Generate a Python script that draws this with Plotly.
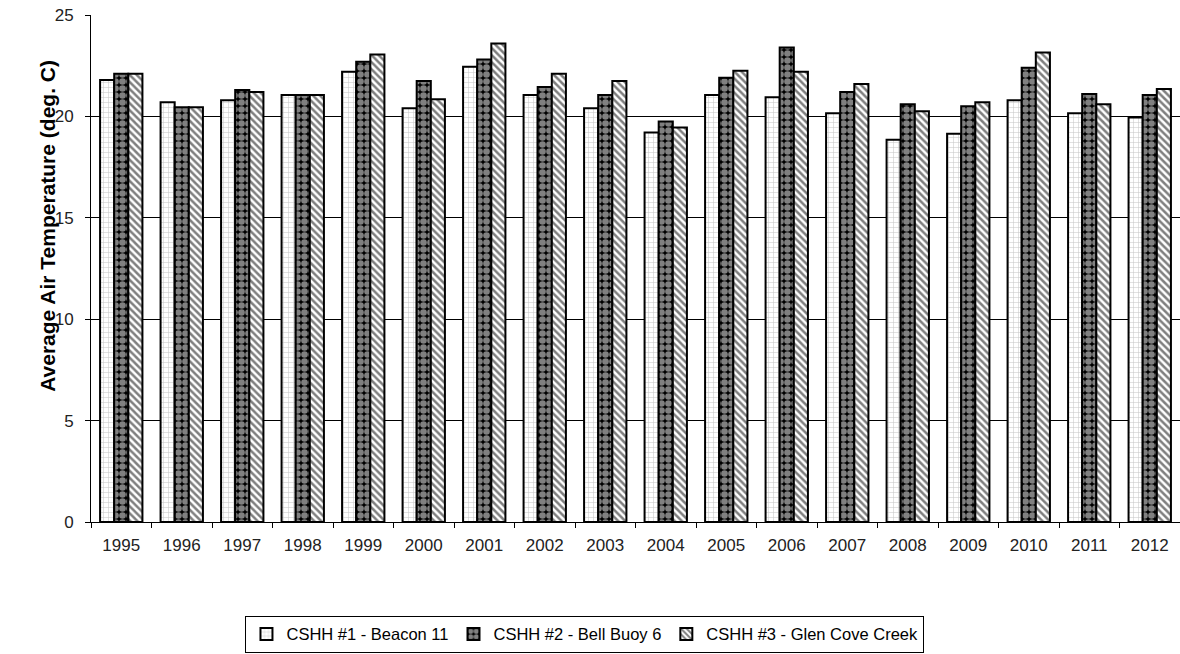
import plotly.graph_objects as go

# ==============================
# DATA
# ==============================

years = ["1995", "1996", "1997", "1998", "1999", "2000", "2001", "2002", "2003",
         "2004", "2005", "2006", "2007", "2008", "2009", "2010", "2011", "2012"]

beacon_11 = [21.8, 20.7, 20.8, 21.05, 22.2, 20.4, 22.45, 21.05, 20.4,
             19.2, 21.05, 20.95, 20.15, 18.85, 19.15, 20.8, 20.15, 19.95]

bell_buoy_6 = [22.1, 20.45, 21.3, 21.05, 22.7, 21.75, 22.8, 21.45, 21.05,
               19.75, 21.9, 23.4, 21.2, 20.6, 20.5, 22.4, 21.1, 21.05]

glen_cove_creek = [22.1, 20.45, 21.2, 21.05, 23.05, 20.85, 23.6, 22.1, 21.75,
                   19.45, 22.25, 22.2, 21.6, 20.25, 20.7, 23.15, 20.6, 21.35]

series_names = ["CSHH #1 - Beacon 11", "CSHH #2 - Bell Buoy 6", "CSHH #3 - Glen Cove Creek"]

FONT = "Liberation Sans, Arial, sans-serif"

# ==============================
# BUILD GRAPH
# ==============================

fig = go.Figure()

fig.add_trace(go.Bar(
    x=years, y=beacon_11, name=series_names[0],
    marker=dict(
        color="white",
        line=dict(color="black", width=2),
        pattern=dict(shape="+", fgcolor="#8c8c8c", bgcolor="white", size=5, solidity=0.2),
    ),
))

fig.add_trace(go.Bar(
    x=years, y=bell_buoy_6, name=series_names[1],
    marker=dict(
        color="black",
        line=dict(color="black", width=2),
        pattern=dict(shape=".", fgcolor="white", bgcolor="black", size=7, solidity=0.7),
    ),
))

fig.add_trace(go.Bar(
    x=years, y=glen_cove_creek, name=series_names[2],
    marker=dict(
        color="white",
        line=dict(color="black", width=2),
        pattern=dict(shape="\\", fgcolor="black", bgcolor="white", size=5, solidity=0.5),
    ),
))

# ==============================
# STYLE
# ==============================

fig.update_layout(
    width=1180,
    height=654,
    margin=dict(l=91, r=0, t=15, b=132, autoexpand=False),
    paper_bgcolor="white",
    plot_bgcolor="white",
    barmode="group",
    bargap=0.3,
    bargroupgap=0,
    font=dict(family=FONT, size=17, color="#222222"),
    showlegend=True,
    legend=dict(
        orientation="h",
        x=0.4536, xanchor="center",
        y=-0.185, yanchor="top",
        bordercolor="black", borderwidth=1,
        font=dict(family=FONT, size=16.5, color="black"),
        itemwidth=30,
    ),
)

# y-axis title sits a bit above the axis middle in the original
fig.add_annotation(
    text="<b>Average Air Temperature (deg. C)</b>",
    xref="paper", yref="paper",
    x=-0.04, y=0.585,
    xanchor="center", yanchor="middle",
    textangle=-90,
    showarrow=False,
    font=dict(family=FONT, size=21, color="black"),
)

fig.update_xaxes(
    type="category",
    showline=True, linecolor="black", linewidth=1,
    ticks="outside", tickson="boundaries", ticklen=5, tickcolor="black",
    ticklabelstandoff=8,
    tickfont=dict(family=FONT, size=17, color="#222222"),
    showgrid=False,
)

fig.update_yaxes(
    range=[0, 25],
    dtick=5,
    showline=True, linecolor="black", linewidth=1,
    ticks="outside", ticklen=5, tickcolor="black",
    ticklabelstandoff=8,
    showgrid=True, gridcolor="black", gridwidth=1,
    zeroline=False,
    tickfont=dict(family=FONT, size=17, color="#222222"),
)

fig.write_html(
    "out.html",
    config={"displayModeBar": False},
    post_script="document.body.style.margin='0';",
)
